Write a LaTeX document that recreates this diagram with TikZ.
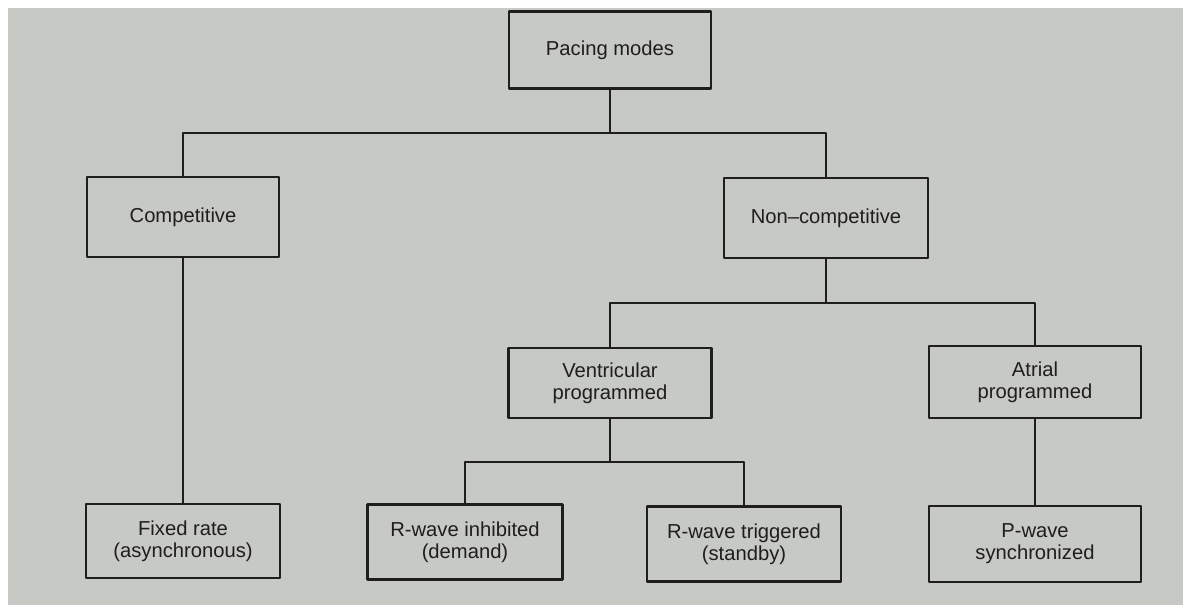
\documentclass[tikz,border=0pt]{standalone}
\usepackage{fontspec}
\setmainfont{Liberation Sans}
\usetikzlibrary{calc}

\definecolor{papel}{RGB}{199,201,196}
\definecolor{tinta}{RGB}{30,30,30}

\begin{document}
\begin{tikzpicture}[x=0.02cm, y=-0.02cm, line cap=round, line join=round,
    caja/.style={draw=tinta, line width=1.4pt, fill=papel, align=center,
        text=tinta, font=\fontsize{11.5}{12.5}\selectfont, inner sep=2pt},
    rama/.style={draw=tinta, line width=1.6pt}]

    % Fondo de la página
    \useasboundingbox (0,0) rectangle (1183,605);
    \fill[white] (0,0) rectangle (1183,605);
    \fill[papel] (8,8) rectangle (1183,605);

    % Cajas
    \node[caja, minimum width=4.04cm, minimum height=1.54cm] (modos) at (610,50) {Pacing modes};
    \node[caja, minimum width=3.84cm, minimum height=1.6cm] (comp) at (183,217) {Competitive};
    \node[caja, minimum width=4.08cm, minimum height=1.6cm] (nocomp) at (826,218) {Non--competitive};
    \node[caja, minimum width=4.06cm, minimum height=1.4cm] (vent) at (610,383) {Ventricular\\programmed};
    \node[caja, minimum width=4.24cm, minimum height=1.44cm] (atrial) at (1035,382) {Atrial\\programmed};
    \node[caja, minimum width=3.88cm, minimum height=1.48cm] (fija) at (183,541) {Fixed rate\\(asynchronous)};
    \node[caja, minimum width=3.9cm, minimum height=1.5cm] (inhib) at (465,542) {R-wave inhibited\\(demand)};
    \node[caja, minimum width=3.88cm, minimum height=1.5cm] (disp) at (744,544) {R-wave triggered\\(standby)};
    \node[caja, minimum width=4.24cm, minimum height=1.52cm] (ponda) at (1035,544) {P-wave\\synchronized};

    % Puntos de unión
    \coordinate (u1) at (610,133);
    \coordinate (u2) at (826,303);
    \coordinate (u3) at (610,462);

    % Ramas
    \draw[rama] (modos.south) -- (u1) -| (comp.north);
    \draw[rama] (u1) -| (nocomp.north);
    \draw[rama] (comp.south) -- (fija.north);
    \draw[rama] (nocomp.south) -- (u2) -| (vent.north);
    \draw[rama] (u2) -| (atrial.north);
    \draw[rama] (atrial.south) -- (ponda.north);
    \draw[rama] (vent.south) -- (u3) -| (inhib.north);
    \draw[rama] (u3) -| (disp.north);

\end{tikzpicture}
\end{document}
